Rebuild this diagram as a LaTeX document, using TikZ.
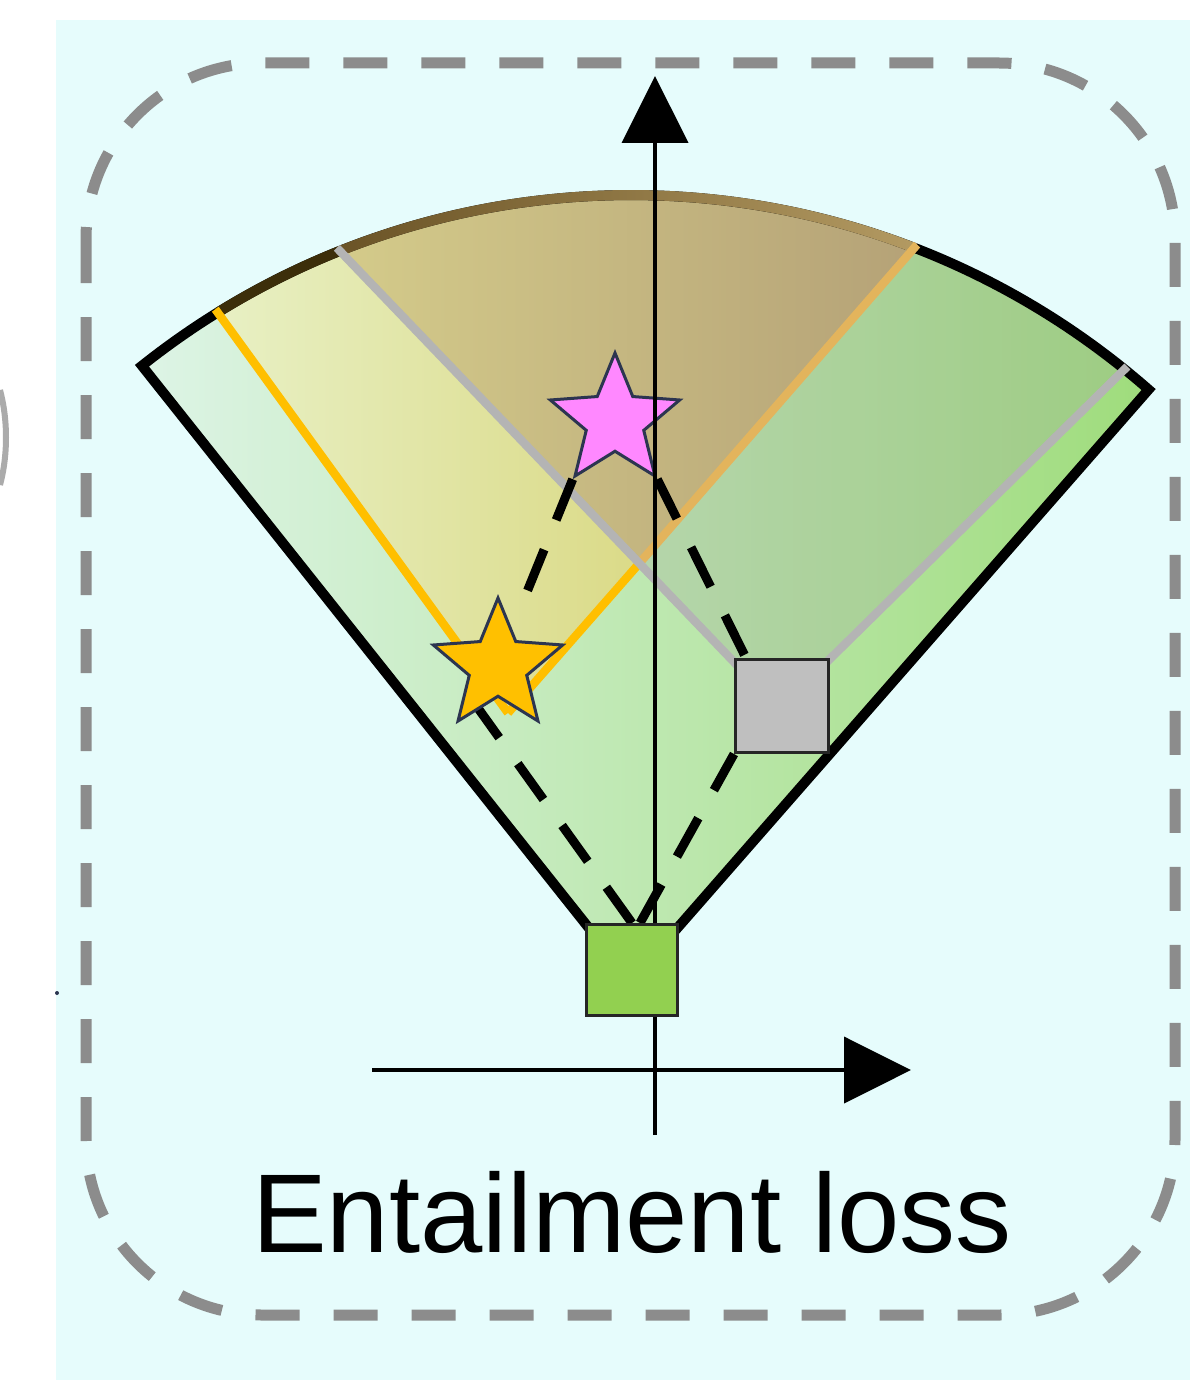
\documentclass[tikz,border=0pt]{standalone}
\usepackage{fontspec}
\newfontfamily\labelfont{Liberation Sans}
\usetikzlibrary{arrows.meta,shapes.geometric,calc}

\definecolor{panelbg}{HTML}{E6FCFC}
\definecolor{frame}{HTML}{8C8C8C}
\definecolor{fanleft}{HTML}{DDF4E6}
\definecolor{fanright}{HTML}{9FDC7C}
\definecolor{yelleft}{HTML}{E8F0C4}
\definecolor{yelright}{HTML}{D2CC60}
\definecolor{mixleft}{HTML}{D4CB8A}
\definecolor{mixright}{HTML}{B5A277}
\definecolor{conegray}{HTML}{969696}
\definecolor{coneorange}{HTML}{FFBF00}
\definecolor{fadedorange}{HTML}{E3B45C}
\definecolor{linegray}{HTML}{B4B4B4}
\definecolor{arcbrown}{HTML}{3C2E0A}
\definecolor{arcbrownL}{HTML}{6A5326}
\definecolor{arcbrownR}{HTML}{B39A62}
\definecolor{rootgreen}{HTML}{92D050}
\definecolor{boxgray}{HTML}{BFBFBF}
\definecolor{starpink}{HTML}{FF88FF}
\definecolor{starorange}{HTML}{FFC000}
\definecolor{edgeink}{HTML}{2C3550}

\pgfdeclarelayer{bg}
\pgfdeclarelayer{links}
\pgfsetlayers{bg,links,main}

\begin{document}
\begin{tikzpicture}[x=0.5pt,y=-0.5pt,line join=miter,
  fanedge/.style={line width=5pt,black},
  coneline/.style={line width=4.2pt},
  linkline/.style={line width=4.5pt,black,dash pattern=on 22pt off 16pt},
  axisline/.style={line width=2pt,black,-{Triangle[length=33.5pt,width=33pt]}},
  starmark/.style={star,star points=5,star point ratio=2.25,minimum size=68pt,
    inner sep=0pt,draw=edgeink,line width=1.5pt},
  boxmark/.style={rectangle,inner sep=0pt,draw=black!85,line width=1.5pt}
]
% fan geometry: apex, radius and the angles of the boundary rays
\def\R{786}
\def\aFL{-128.48}\def\aOL{-121.75}\def\aGL{-111.86}
\def\aOR{-68.77}\def\aGR{-51.07}\def\aFR{-48.81}

\useasboundingbox (0,0) rectangle (1190,1380);

\coordinate (A) at (631,981);
\coordinate (O) at (508,713);
\coordinate (G) at (779,709);
\coordinate (FL) at ($(A)+(\aFL:\R)$);
\coordinate (FR) at ($(A)+(\aFR:\R)$);
\coordinate (OL) at ($(A)+(\aOL:\R)$);
\coordinate (OR) at ($(A)+(\aOR:\R)$);
\coordinate (GL) at ($(A)+(\aGL:\R)$);
\coordinate (GR) at ($(A)+(\aGR:\R)$);
\coordinate (X) at (intersection of O--OR and G--GL);

\begin{pgfonlayer}{bg}
  \fill[white] (0,0) rectangle (1190,1380);
  \fill[panelbg] (56,20) rectangle (1190,1380);
  \draw[black!55,line width=3pt,opacity=0.6] (0,390) .. controls (8,420) and (8,455) .. (0,485);
  \fill[edgeink] (57,993) circle (2);
  \draw[frame,line width=5.5pt,dash pattern=on 22pt off 17pt,rounded corners=88pt]
    (86,63) rectangle (1175,1315);

  % the fan and the two cones inside it
  \shade[left color=fanleft,right color=fanright]
    (A) -- (FL) arc[start angle=\aFL,end angle=\aFR,radius=\R] -- cycle;
  \shade[left color=yelleft,right color=yelright]
    (O) -- (OL) arc[start angle=\aOL,end angle=\aOR,radius=\R] -- cycle;
  \fill[conegray,fill opacity=0.22]
    (G) -- (GL) arc[start angle=\aGL,end angle=\aGR,radius=\R] -- cycle;
  \shade[left color=mixleft,right color=mixright]
    (X) -- (GL) arc[start angle=\aGL,end angle=\aOR,radius=\R] -- cycle;

  % fan outline
  \draw[fanedge] (A) -- (FL) arc[start angle=\aFL,end angle=\aFR,radius=\R] -- cycle;
  \draw[line width=5pt,arcbrown] (OL) arc[start angle=\aOL,end angle=\aGL,radius=\R];
  \shade[left color=arcbrownL,right color=arcbrownR]
    ($(A)+(\aGL:791)$) arc[start angle=\aGL,end angle=\aOR,radius=791]
    -- ($(A)+(\aOR:781)$) arc[start angle=\aOR,end angle=\aGL,radius=781] -- cycle;

  % cone boundaries
  \draw[coneline,coneorange] (O) -- ($(A)+(\aOL:790)$);
  \draw[coneline,coneorange] (O) -- (X);
  \draw[coneline,fadedorange] (X) -- ($(A)+(\aOR:790)$);
  \draw[coneline,linegray] (G) -- ($(A)+(\aGL:790)$);
  \draw[coneline,linegray] (G) -- ($(A)+(\aGR:790)$);
\end{pgfonlayer}

% embedded items
\node[starmark,fill=starorange] (orange) at (498,666) {};
\node[boxmark,fill=boxgray,minimum size=46.5pt] (gray) at (782,706) {};
\node[starmark,fill=starpink] (pink) at (615,421) {};

% axes
\coordinate (ylow) at (655,1135);
\coordinate (ytop) at (655,76);
\coordinate (xleft) at (372,1070);
\coordinate (xright) at (911,1070);
\draw[axisline] (ylow) -- (ytop);
\draw[axisline] (xleft) -- (xright);

\node[boxmark,fill=rootgreen,minimum size=45.5pt] (root) at (632,970) {};

% entailment links
\begin{pgfonlayer}{links}
  \draw[linkline] (root.north) -- ($(orange.center)+(-33,24)$);
  \draw[linkline] ($(root.north)+(8,0)$) -- (gray.south west);
  \draw[linkline] (pink.outer point 3) -- ($(orange.center)+(20,-52)$);
  \draw[linkline] (pink.outer point 4) -- ($(gray.north west)+(12,0)$);
\end{pgfonlayer}

\node[anchor=base,inner sep=0pt,font=\labelfont\fontsize{56}{60}\selectfont] (caption)
  at (632,1252) {Entailment loss};
\end{tikzpicture}
\end{document}
